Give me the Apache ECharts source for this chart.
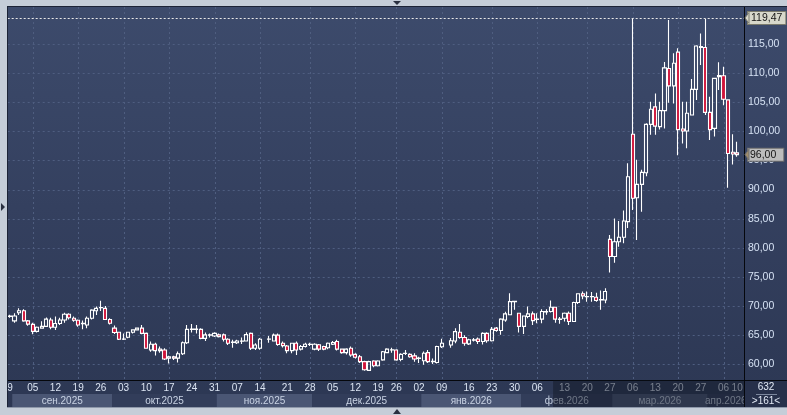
<!DOCTYPE html>
<html><head><meta charset="utf-8">
<script src="https://cdn.jsdelivr.net/npm/echarts@6/dist/echarts.min.js"></script>
<style>
html,body{margin:0;padding:0;background:#c5cdd8;}
#c{width:787px;height:415px;background:linear-gradient(to bottom,#3d4b6c 0%,#34405f 50%,#2c3753 100%);}
</style></head><body><div id="c"></div>
<script>
// ---- data (slots; null = no candle) ----
const open = [
68.2,67.45,68.85,69.2,67.45,66.85,65.65,66.2,66.5,67.6,
66.35,67.0,67.6,68.6,67.9,67.55,66.95,66.75,67.9,69.2,
69.7,69.6,67.7,66.2,65.5,64.3,64.65,65.5,65.9,66.2,
65.3,62.45,63.45,62.6,62.45,61.05,61.3,61.05,61.8,63.7,
66.0,66.0,66.0,64.45,65.0,64.85,65.05,65.05,64.3,63.75,
63.7,63.95,64.0,65.3,62.75,62.75,
null,
64.3,64.0,65.0,63.6,63.15,62.35,63.6,62.6,63.05,63.4,
62.6,63.35,63.05,62.85,63.45,63.9,62.6,62.0,62.75,61.7,
61.3,60.45,58.95,60.55,59.75,60.75,62.0,62.45,62.45,60.85,
61.85,61.7,61.45,61.0,60.6,62.0,60.45,60.3,63.0,
null,
63.3,64.0,65.5,64.6,63.5,64.15,64.35,63.9,65.3,64.05,
66.2,65.8,67.6,68.5,70.75,68.75,66.5,68.2,68.65,67.7,
67.75,69.0,69.05,69.8,67.7,67.9,68.75,67.35,70.6,72.1,
71.6,71.6,71.5,71.05,71.05,81.45,78.5,81.05,81.8,84.5,
99.5,88.6,90.9,92.9,101.2,104.2,100.8,103.55,110.8,107.8,
113.6,100.4,100.05,102.8,107.2,114.55,114.4,103.25,100.5,109.4,
109.55,105.4,96.4,96.3];
const close = [
68.3,68.3,69.2,67.45,66.9,65.65,66.35,66.5,67.75,66.35,
67.0,67.6,68.6,68.0,67.55,66.75,67.05,67.9,69.3,69.6,
69.75,67.7,67.05,65.45,64.3,64.35,65.5,65.9,66.2,65.3,
62.75,63.45,62.35,62.35,60.9,61.3,61.05,61.8,63.7,66.0,
66.05,66.05,64.45,65.05,65.05,65.3,64.75,64.3,63.6,63.8,
64.0,64.0,65.1,62.75,63.3,64.3,
null,
64.35,65.0,63.4,63.2,62.35,63.6,62.45,63.05,63.45,63.45,
63.45,62.6,62.6,63.6,63.75,62.6,62.0,62.6,61.6,61.2,
60.45,59.05,60.45,59.75,60.55,62.15,62.6,62.5,60.75,61.7,
61.9,61.3,60.9,61.05,61.9,60.45,60.5,63.05,63.6,
null,
64.05,65.6,64.6,63.6,64.2,64.2,63.9,65.3,64.05,66.0,
65.8,67.75,68.65,70.75,70.8,66.5,68.3,68.65,67.5,67.75,
69.05,69.05,69.8,67.75,67.75,68.75,67.35,70.6,72.1,71.75,
71.65,71.65,70.95,71.1,72.5,78.5,81.05,81.8,84.6,92.2,
88.5,90.9,92.95,101.2,103.8,100.9,103.55,110.9,107.8,111.7,
100.3,100.05,103.1,107.2,114.65,114.4,103.25,100.3,109.1,109.6,
105.5,96.2,96.1,96.0];
const low = [
68.0,67.15,68.45,67.3,66.6,65.15,65.45,66.1,66.45,66.0,
65.9,66.75,67.15,67.7,67.3,66.45,66.0,66.2,67.7,68.45,
69.15,67.6,66.85,65.2,64.15,64.15,64.45,65.3,65.8,65.15,
62.65,62.15,61.5,62.0,60.75,60.15,60.75,60.3,61.6,63.5,
65.45,65.3,64.3,64.0,64.6,64.7,64.6,63.9,63.3,62.85,
63.5,63.5,63.9,62.45,62.45,62.5,
null,
63.7,63.9,63.2,62.9,61.9,61.9,61.6,62.35,62.9,63.15,
62.4,62.3,62.4,62.6,63.3,62.35,61.8,61.7,61.3,61.0,
60.2,58.9,58.9,59.5,59.6,60.6,61.9,62.0,60.6,60.5,
61.6,61.1,60.45,60.2,59.9,60.2,60.05,60.15,62.8,
null,
62.85,63.6,64.4,63.2,63.3,63.9,63.5,63.4,63.7,63.9,
65.6,65.05,67.3,68.5,69.35,65.45,65.2,67.9,66.75,67.05,
67.05,68.5,68.9,67.15,66.95,67.35,66.75,67.3,70.35,71.15,
70.75,70.75,70.75,69.35,70.5,75.75,77.45,80.2,80.8,83.4,
86.5,81.35,86.2,92.3,99.4,99.4,100.3,100.5,104.9,104.8,
95.9,97.9,97.1,102.8,105.4,111.4,102.8,98.5,99.1,107.1,
104.5,90.3,94.3,95.65];
const high = [
68.5,68.75,69.6,69.45,67.6,67.15,66.5,67.4,68.05,68.0,
68.2,68.0,68.85,68.75,68.2,67.7,67.5,68.2,69.45,69.9,
70.9,70.0,67.9,66.65,65.6,65.3,65.6,66.0,66.3,66.75,
65.45,63.9,63.7,63.05,62.75,61.45,61.45,62.2,63.9,66.75,
66.9,66.75,66.2,65.45,65.3,65.5,65.3,65.3,64.45,64.2,
64.2,64.6,65.5,65.45,63.6,64.5,
null,
64.85,65.3,65.3,63.9,63.3,63.7,63.9,63.3,63.7,63.7,
63.6,63.5,63.2,63.75,64.0,64.2,62.7,62.75,63.05,61.9,
61.6,60.6,60.6,60.7,60.7,62.3,62.75,62.85,62.6,61.9,
62.45,61.9,61.9,61.3,62.2,62.45,61.0,63.2,64.4,
null,
64.5,66.2,66.9,65.0,64.4,64.5,64.6,65.5,65.5,66.4,
66.4,67.9,69.0,72.2,70.85,68.8,68.35,69.9,69.05,68.75,
69.45,69.45,70.95,69.85,68.1,68.9,69.05,70.75,72.2,72.5,
72.5,72.4,72.3,72.65,73.05,82.2,85.05,84.6,86.4,94.5,
119.47,95.1,93.4,101.4,105.1,106.5,105.1,111.9,119.1,113.4,
114.25,105.1,105.1,109.0,114.8,116.8,119.3,105.95,109.2,111.85,
111.1,105.5,99.5,98.2];

const slotCount = 162;
const tickSlots  = [0,5,10,15,20,25,30,35,40,45,50,55,61,66,71,76,81,85,90,95,101,106,111,116,122,127,132,137,142,147,152,157,160];
const tickLabels = ['9','05','12','19','26','03','10','17','24','31','07','14','21','28','05','12','19','26','02','09','16','23','30','06','13','20','27','06','13','20','27','06','10'];
const gridSlots  = [5,15,25,35,45,55,66,76,85,95,106,116,127,137,147,157];
const yTicks     = [60,65,70,75,80,85,90,95,100,105,110,115];
const months     = ['сен.2025','окт.2025','ноя.2025','дек.2025','янв.2026','фев.2026','мар.2026','апр.2026'];
const monthStart = [1,23,46,67,91,113,133,154];
const monthEnd   = [22,45,66,90,112,132,153,161];
const monthShade = [1,0,1,0,1,0,1,0];
const dimFrom    = 120;
const maxHigh    = 119.47;
const lastPrice  = 96.00;
const barsTotal  = '632';
const barsShown  = '>161<';

// ---- chart ----
const FONT = 'Liberation Sans';
const categories = Array.from({length: slotCount}, (_, i) => String(i));
const candleData = open.map((o, i) => o == null ? ['-','-','-','-'] : [o, close[i], low[i], high[i]]);
const fmt = v => Number(v).toFixed(2).replace('.', ',');

const chart = echarts.init(document.getElementById('c'), null, {renderer: 'canvas'});

const frameGraphics = [
  {type: 'rect', z: 50, shape: {x: 745, y: 381, width: 42, height: 26}, style: {fill: '#27304a'}},
  {type: 'text', z: 51, x: 766, y: 387.5, style: {text: barsTotal, fill: '#e2e9f5', font: '10px "Liberation Sans"', align: 'center', verticalAlign: 'middle'}},
  {type: 'line', z: 51, shape: {x1: 756, y1: 394.5, x2: 777, y2: 394.5}, style: {stroke: '#7c879d', lineWidth: 1}},
  {type: 'text', z: 51, x: 766, y: 401, style: {text: barsShown, fill: '#e2e9f5', font: '10px "Liberation Sans"', align: 'center', verticalAlign: 'middle'}},
  {type: 'line', z: 52, shape: {x1: 744, y1: 380.5, x2: 787, y2: 380.5}, style: {stroke: '#05070c', lineWidth: 1}},
  {type: 'line', z: 52, shape: {x1: 744.5, y1: 380, x2: 744.5, y2: 407}, style: {stroke: '#05070c', lineWidth: 1}},
  {type: 'rect', z: 60, shape: {x: 0, y: 0, width: 787, height: 6}, style: {fill: '#c5cdd8'}},
  {type: 'line', z: 61, shape: {x1: 7, y1: 6.5, x2: 787, y2: 6.5}, style: {stroke: '#1c2336', lineWidth: 1}},
  {type: 'rect', z: 60, shape: {x: 0, y: 0, width: 7, height: 415}, style: {fill: '#c5cdd8'}},
  {type: 'line', z: 61, shape: {x1: 7.5, y1: 6, x2: 7.5, y2: 407}, style: {stroke: '#1c2336', lineWidth: 1}},
  {type: 'rect', z: 60, shape: {x: 0, y: 407.5, width: 787, height: 8}, style: {fill: '#c5cdd8'}},
  {type: 'line', z: 61, shape: {x1: 7, y1: 407.5, x2: 787, y2: 407.5}, style: {stroke: '#8e98aa', lineWidth: 1}},
  {type: 'polygon', z: 62, shape: {points: [[393, 1], [401, 1], [397, 5]]}, style: {fill: '#2a3040'}},
  {type: 'polygon', z: 62, shape: {points: [[393, 414], [401, 414], [397, 409]]}, style: {fill: '#2a3040'}},
  {type: 'polygon', z: 62, shape: {points: [[1, 203], [1, 211], [5, 207]]}, style: {fill: '#2a3040'}}
];

const option = {
  animation: false,
  backgroundColor: 'transparent',
  grid: [
    {left: 7.7, right: 43, top: 7, bottom: 35},
    {left: 7.7, right: 43, top: 394, height: 13}
  ],
  xAxis: [
    {
      type: 'category', data: categories, gridIndex: 0, boundaryGap: true,
      axisLine: {show: true, lineStyle: {color: '#05070c', width: 1}},
      axisTick: {show: false},
      splitLine: {show: false},
      axisLabel: {
        interval: (i) => tickSlots.indexOf(i) >= 0,
        formatter: (v, i) => { const k = tickSlots.indexOf(i); return k >= 0 ? tickLabels[k] : ''; },
        color: '#dbe4f2', fontSize: 10, fontFamily: FONT, margin: 3
      }
    },
    {type: 'category', data: categories, gridIndex: 1, boundaryGap: true, show: false}
  ],
  yAxis: [
    {
      type: 'value', gridIndex: 0, position: 'right', min: 57.3, max: 121.35, scale: true,
      axisLine: {show: true, lineStyle: {color: '#05070c', width: 1}},
      axisTick: {show: false},
      splitLine: {show: false},
      axisLabel: {customValues: yTicks, formatter: fmt, color: '#d6e2f4', fontSize: 10.5, fontFamily: FONT, margin: 4}
    },
    {type: 'value', gridIndex: 1, min: 0, max: 1, show: false}
  ],
  series: [
    {
      name: 'hgrid', type: 'custom', xAxisIndex: 0, yAxisIndex: 0, z: 1, silent: true, clip: true,
      data: yTicks.map(v => [0, v]),
      renderItem: (params, api) => {
        const cs = params.coordSys;
        const y = Math.round(api.coord([0, api.value(1)])[1]) + 0.5;
        return {type: 'line', shape: {x1: cs.x, y1: y, x2: cs.x + cs.width, y2: y},
          style: {stroke: '#4f5e80', lineWidth: 1, lineDash: [2, 3]}};
      }
    },
    {
      name: 'vgrid', type: 'custom', xAxisIndex: 0, yAxisIndex: 0, z: 1, silent: true, clip: true,
      data: gridSlots.map(s => [s, 60]),
      renderItem: (params, api) => {
        const cs = params.coordSys;
        const x = Math.round(api.coord([api.value(0), 60])[0]) + 0.5;
        return {type: 'line', shape: {x1: x, y1: cs.y, x2: x, y2: cs.y + cs.height},
          style: {stroke: '#4f5e80', lineWidth: 1, lineDash: [2, 3]}};
      }
    },
    {
      name: 'price', type: 'candlestick', xAxisIndex: 0, yAxisIndex: 0, z: 3,
      data: candleData,
      barWidth: 3.6,
      itemStyle: {
        color: 'rgba(0,0,0,0)', color0: '#d0143a',
        borderColor: '#ffffff', borderColor0: '#ffffff', borderColorDoji: '#ffffff', borderWidth: 1.1
      },
      markLine: {
        silent: true, symbol: ['none', 'none'], animation: false, z: 6,
        data: [
          {yAxis: maxHigh, lineStyle: {color: '#e8e8e8', type: [2, 2], width: 1},
           label: {show: true, position: 'end', formatter: p => fmt(p.value), distance: 4,
             backgroundColor: '#d8d8cb', borderColor: '#7a7a6c', borderWidth: 1, color: '#151515',
             padding: [1, 3, 0, 3], fontSize: 10.5, fontFamily: FONT}},
          {yAxis: lastPrice, lineStyle: {color: 'rgba(0,0,0,0)', width: 0},
           label: {show: true, position: 'end', formatter: p => fmt(p.value), distance: 4,
             backgroundColor: '#bdbdbd', borderColor: '#6e6e6e', borderWidth: 1, color: '#151515',
             padding: [1, 7, 0, 2], fontSize: 10.5, fontFamily: FONT}}
        ]
      }
    },
    {
      name: 'months', type: 'custom', xAxisIndex: 1, yAxisIndex: 1, z: 2, silent: true, clip: true,
      data: months.map((m, i) => [monthStart[i], monthEnd[i], monthShade[i], i]),
      renderItem: (params, api) => {
        const s = api.value(0), e = api.value(1), shade = api.value(2), idx = api.value(3);
        const bw = api.size([1, 0])[0];
        const p0 = api.coord([s, 0]), p1 = api.coord([e, 1]);
        const x0 = p0[0] - bw / 2, x1 = p1[0] + bw / 2, y0 = p1[1], y1 = p0[1];
        return {type: 'group', children: [
          {type: 'rect', shape: {x: x0, y: y0, width: x1 - x0, height: y1 - y0},
           style: {fill: shade ? '#4a5674' : '#323d5a'}},
          {type: 'text', x: (x0 + x1) / 2, y: (y0 + y1) / 2 + 0.5,
           style: {text: months[idx], fill: '#c9d3e4', font: '10px "Liberation Sans"', align: 'center', verticalAlign: 'middle'}}
        ]};
      }
    },
    {
      name: 'dim', type: 'custom', xAxisIndex: 1, yAxisIndex: 1, z: 8, silent: true, clip: false,
      data: [[dimFrom, slotCount - 1]],
      renderItem: (params, api) => {
        const cs = params.coordSys;
        const bw = api.size([1, 0])[0];
        const x0 = api.coord([api.value(0), 0])[0] - bw / 2;
        const x1 = cs.x + cs.width;
        return {type: 'rect', shape: {x: x0, y: cs.y - 13.5, width: x1 - x0, height: cs.height + 13.5},
          style: {fill: 'rgba(18,23,38,0.5)'}};
      }
    }
  ],
  graphic: frameGraphics
};
chart.setOption(option);

// arrow tips of the price tags, placed through the value axis scale
const yHigh = chart.convertToPixel({yAxisIndex: 0}, maxHigh);
const yLast = chart.convertToPixel({yAxisIndex: 0}, lastPrice);
chart.setOption({graphic: frameGraphics.concat([
  {type: 'polygon', z: 70, shape: {points: [[745, yHigh], [749, yHigh - 5.5], [749, yHigh + 5.5]]}, style: {fill: '#d8d8cb', stroke: '#7a7a6c', lineWidth: 1}},
  {type: 'polygon', z: 70, shape: {points: [[745, yLast], [749, yLast - 5.5], [749, yLast + 5.5]]}, style: {fill: '#a08c6c', stroke: '#6e6e6e', lineWidth: 1}}
])});
</script>
</body></html>
